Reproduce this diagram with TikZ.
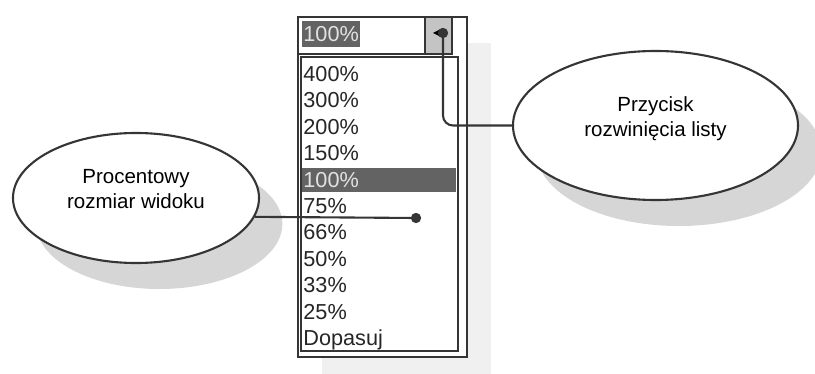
\documentclass[tikz,border=0pt]{standalone}
\usepackage{fontspec}
\setmainfont{Liberation Sans}
\usetikzlibrary{positioning, calc, shapes, shadows}

\definecolor{frameline}{HTML}{353535}
\definecolor{panelgray}{HTML}{F0F0F0}
\definecolor{selgray}{HTML}{636363}
\definecolor{btngray}{HTML}{C4C4C4}
\definecolor{seltext}{HTML}{E2E2E2}

\begin{document}
\begin{tikzpicture}[x=0.03cm, y=-0.03cm,
        frame/.style={% Frames of the combo box
            draw=frameline,
            line width=1.8pt,
            },
        listitem/.style={% For the entries of the list
            anchor=base west,
            inner sep=1pt,
            text=black!85,
            font=\fontsize{18.5}{22}\selectfont,
            },
        selitem/.style={% The highlighted entry
            listitem,
            fill=selgray,
            text=seltext,
            },
        callout/.style={% The ellipses with the explanations
            ellipse,
            draw=frameline,
            line width=1.8pt,
            fill=white,
            inner sep=0pt,
            align=center,
            font=\fontsize{17.5}{21.3}\selectfont,
            text depth=0.55cm,
            drop shadow={shadow xshift=0.7cm, shadow yshift=-0.78cm, fill=black!16, opacity=1},
            },
        dot/.style={% Ends of the connectors
            circle,
            fill=frameline,
            inner sep=0pt,
            minimum size=0.31cm,
            },
        connector/.style={%
            draw=frameline,
            line width=1.8pt,
            },
            ]
         \useasboundingbox (0,0) rectangle (815,374);
         \fill[panelgray] (322,43) rectangle (491,374);
            % combo box with its list
         \draw[frame, fill=white] (298,17) rectangle (467,357);
         \draw[frame, fill=btngray] (425,17) rectangle (452,54);
         \draw[frame] (298,54) -- (425,54);
         \draw[frame, fill=white] (301,57) rectangle (458,351);
         \fill[black] (433,33) -- (442,28.5) -- (442,37.5) -- cycle;
         \node[selitem, minimum height=0.8cm] (combo) at (302,41.5) {100\%};
         \node[listitem] (p400) at (302,81.5) {400\%};
         \node[listitem] (p300) at (302,107.9) {300\%};
         \node[listitem] (p200) at (302,134.3) {200\%};
         \node[listitem] (p150) at (302,160.7) {150\%};
         \node[selitem, text width=4.55cm, minimum height=0.72cm] (p100) at (302,187.1) {100\%};
         \node[listitem] (p75) at (302,213.5) {75\%};
         \node[listitem] (p66) at (302,239.9) {66\%};
         \node[listitem] (p50) at (302,266.3) {50\%};
         \node[listitem] (p33) at (302,292.7) {33\%};
         \node[listitem] (p25) at (302,319.1) {25\%};
         \node[listitem] (dopasuj) at (302,345.5) {Dopasuj};
            % explanations
         \node[callout, minimum width=7.38cm, minimum height=3.9cm] (procent) at (136,198) {Procentowy\\rozmiar widoku};
         \node[callout, minimum width=8.55cm, minimum height=4.47cm] (przycisk) at (655.5,125.5) {Przycisk\\rozwinięcia listy};
         \node[dot] (btnDot) at (443,33) {};
         \node[dot] (sizeDot) at (416,218) {};
         \draw[connector] (sizeDot.center) -- (procent.-9.7);
         \draw[connector, rounded corners=0.3cm] (btnDot.center) |- (przycisk.west);
        \end{tikzpicture}
\end{document}
